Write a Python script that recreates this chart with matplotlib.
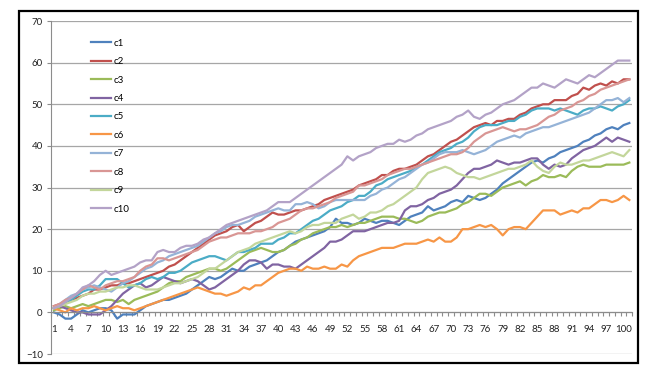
import matplotlib.pyplot as plt
import numpy as np
from matplotlib.patches import Rectangle

# series values (categories 1..101)
c1 = [0, -0.5, -1.5, -1.5, -0.5, 0.5, 0, 0.5, 1, 1,
      0.5, -1.5, -0.5, -0.5, -0.5, 0.5, 1.5, 2, 2.5, 3,
      3, 3.5, 4, 4.5, 5.5, 6.5, 7.5, 8.5, 8, 8.5,
      9.5, 10.5, 10, 10, 11, 11.5, 12, 12.5, 13.5, 14.5,
      15, 16, 17, 17.5, 18, 18.5, 19, 19.5, 20.5, 22.5,
      21.5, 21.5, 21, 21.5, 22.5, 22, 21.5, 22, 22, 21.5,
      21, 22, 23, 23.5, 24, 25.5, 24.5, 25, 25.5, 26.5,
      27, 26.5, 28, 27.5, 27, 27.5, 28.5, 29.5, 31, 32,
      33, 34, 35, 36, 36.5, 36, 37, 37.5, 38.5, 39,
      39.5, 40, 41, 41.5, 42.5, 43, 44, 44.5, 44, 45,
      45.5]
c2 = [1.5, 2, 2.5, 3, 3.5, 4, 4.5, 5.5, 5.5, 6,
      6.5, 6.5, 7, 7, 7.5, 8, 8.5, 9, 9.5, 10,
      11, 11.5, 12.5, 13.5, 14.5, 15.5, 16.5, 17.5, 18.5, 19,
      19.5, 20.5, 21, 19.5, 20.5, 21.5, 22, 23, 24, 23.5,
      23.5, 24, 24.5, 24.5, 25, 25.5, 26, 27, 27.5, 28,
      28.5, 29, 29.5, 30.5, 31, 31.5, 32, 33, 33, 34,
      34.5, 34.5, 35, 35.5, 36.5, 37.5, 38, 39, 40, 41,
      41.5, 42.5, 43.5, 44.5, 45, 45.5, 45, 46, 46, 46.5,
      46.5, 47.5, 48, 49, 49.5, 50, 50, 51, 51, 51,
      52, 52.5, 54, 53.5, 54.5, 55, 54.5, 55.5, 55, 56,
      56]
c3 = [0.5, 1, 1.5, 1, 1.5, 2, 1.5, 2, 2.5, 3,
      3, 2.5, 3, 2, 3, 3.5, 4, 4.5, 5, 6,
      7, 7.5, 7.5, 8.5, 9, 9.5, 10, 10.5, 10.5, 10,
      10.5, 11.5, 12.5, 13.5, 14.5, 15, 15.5, 15, 14.5, 14.5,
      15, 16, 16.5, 17.5, 18, 19, 19.5, 20, 20.5, 20.5,
      21, 20.5, 21, 21.5, 21.5, 22, 22.5, 23, 23, 23,
      22.5, 22.5, 22, 21.5, 22, 23, 23.5, 24, 24, 24.5,
      25, 26, 26.5, 27.5, 28.5, 28.5, 28, 29, 30, 30.5,
      31, 31.5, 30.5, 31.5, 32, 33, 32.5, 32.5, 33, 32.5,
      34, 35, 35.5, 35, 35, 35, 35.5, 35.5, 35.5, 35.5,
      36]
c4 = [1, 1.5, 1, 0.5, 0, 0, -0.5, -0.5, -0.5, 0.5,
      1.5, 3, 4.5, 5.5, 6.5, 7, 6, 6.5, 7.5, 8.5,
      8, 7.5, 7, 7.5, 8, 7.5, 6.5, 5.5, 6, 7,
      8, 9, 10, 11.5, 12.5, 12.5, 12, 10.5, 11.5, 11.5,
      11, 11, 10.5, 11.5, 12.5, 13.5, 14.5, 15.5, 17, 17,
      17.5, 18.5, 19.5, 19.5, 19.5, 20, 20.5, 21, 21.5, 21.5,
      22, 24.5, 25.5, 25.5, 26, 27, 27.5, 28.5, 29, 29.5,
      30.5, 32, 33.5, 34.5, 34.5, 35, 35.5, 36.5, 36, 35.5,
      36, 36, 36.5, 37, 37, 35.5, 34.5, 35.5, 35, 35.5,
      37, 38, 39, 39.5, 40, 41, 42, 41, 42, 41.5,
      41]
c5 = [1, 1.5, 2.5, 3, 4, 5, 5.5, 5.5, 6.5, 8,
      8, 8, 7, 6, 6.5, 7, 8, 8.5, 8, 8.5,
      9.5, 9.5, 10, 11, 12, 12.5, 13, 13.5, 13.5, 13,
      12.5, 13.5, 14.5, 14.5, 15, 15.5, 16.5, 16.5, 16.5, 17.5,
      18, 19, 19, 20, 21, 22, 22.5, 23.5, 24.5, 25,
      25.5, 26.5, 27, 28, 28, 29, 30.5, 31, 32, 32.5,
      33, 33.5, 34, 35, 35.5, 36.5, 37.5, 38.5, 39, 39.5,
      40.5, 41, 42, 43.5, 44.5, 45, 45, 45, 45.5, 46,
      46, 47, 47.5, 48.5, 49, 49, 49, 48.5, 49, 48.5,
      48, 47.5, 48.5, 49, 49, 49.5, 49, 48.5, 49.5, 50,
      51]
c6 = [1, 0.5, 0, 1, 0.5, 1, 1, 1.5, 1, 0.5,
      1, 1.5, 1, 1, 0.5, 1, 1.5, 2, 2.5, 3,
      3.5, 4, 4.5, 5, 5.5, 6, 5.5, 5, 4.5, 4.5,
      4, 4.5, 5, 6, 5.5, 6.5, 6.5, 7.5, 8.5, 9.5,
      10, 10.5, 10.5, 10, 11, 10.5, 10.5, 11, 10.5, 10.5,
      11.5, 11, 12.5, 13.5, 14, 14.5, 15, 15.5, 15.5, 15.5,
      16, 16.5, 16.5, 16.5, 17, 17.5, 17, 18, 17, 17,
      18, 20, 20, 20.5, 21, 20.5, 21, 20, 18.5, 20,
      20.5, 20.5, 20, 21.5, 23, 24.5, 24.5, 24.5, 23.5, 24,
      24.5, 24, 25, 25, 26, 27, 27, 26.5, 27, 28,
      27]
c7 = [1, 2, 3, 4, 4.5, 5.5, 6, 6.5, 6, 5.5,
      5, 6, 7, 7.5, 8.5, 9.5, 10.5, 11, 12, 12.5,
      13.5, 14, 14.5, 15, 15.5, 16, 17, 18, 19, 19.5,
      20.5, 21, 21, 21.5, 22, 23, 23.5, 24, 24.5, 25,
      24.5, 24.5, 26, 26, 26.5, 26, 25, 25.5, 26.5, 27,
      27, 27, 27, 27, 27, 28, 28.5, 29.5, 30, 31,
      32, 32.5, 33.5, 34.5, 35.5, 36, 37, 38, 38.5, 38.5,
      38.5, 39, 38.5, 38, 38.5, 39, 40, 41, 41.5, 42,
      42.5, 42, 43, 43.5, 44, 44.5, 44.5, 45, 45.5, 46,
      46.5, 47, 47.5, 48, 49, 50, 51, 51, 51.5, 50.5,
      51.5]
c8 = [1.5, 2, 3, 3.5, 4.5, 5.5, 6.5, 6, 5.5, 6.5,
      7, 7.5, 7.5, 8, 8.5, 10, 11, 11.5, 13, 13,
      12.5, 13, 13.5, 14, 14.5, 15, 16, 17, 17.5, 18,
      18, 18.5, 19, 19, 19, 19.5, 19.5, 20, 20.5, 21.5,
      22, 22.5, 23.5, 24.5, 25, 25, 25.5, 26, 26.5, 27.5,
      28, 28.5, 29, 30.5, 30.5, 31, 31.5, 32, 33, 33.5,
      34, 34.5, 34.5, 35, 35.5, 36, 36.5, 37, 37.5, 38,
      38, 38.5, 39.5, 41, 42, 43, 43.5, 44, 44.5, 44,
      43.5, 44, 44, 44.5, 45, 46, 47, 47.5, 48.5, 49,
      49.5, 50.5, 51, 52, 52.5, 53.5, 54, 54.5, 55, 55.5,
      56]
c9 = [1, 1.5, 2, 2.5, 3, 4, 4.5, 4.5, 5, 5,
      5.5, 6, 6, 6.5, 6.5, 6, 5.5, 5.5, 5.5, 6,
      6.5, 7, 7, 7.5, 8, 8.5, 9.5, 10.5, 10.5, 11.5,
      12.5, 13.5, 14.5, 15, 15.5, 16.5, 17, 17.5, 18, 18.5,
      19, 19.5, 19, 19.5, 20.5, 21, 21, 21.5, 21.5, 21.5,
      22.5, 23, 23.5, 22.5, 23, 24, 24, 24.5, 25.5, 26,
      27, 28, 29, 30, 32, 33.5, 34, 34.5, 35, 34.5,
      33.5, 33, 32.5, 32.5, 32, 32.5, 33, 33.5, 34, 34.5,
      34.5, 35, 35.5, 36.5, 35, 34, 33.5, 35, 36, 35.5,
      35.5, 36, 36.5, 36.5, 37, 37.5, 38, 38.5, 38, 37.5,
      39]
c10 = [1, 1.5, 2.5, 3.5, 4.5, 6, 6.5, 7.5, 9, 10,
       9, 9.5, 10, 10.5, 11, 12, 12.5, 12.5, 14.5, 15,
       14.5, 14.5, 15.5, 16, 16, 16.5, 17.5, 18, 19, 20,
       21, 21.5, 22, 22.5, 23, 23.5, 24, 24.5, 25.5, 26.5,
       26.5, 26.5, 27.5, 28.5, 29.5, 30.5, 31.5, 32.5, 33.5, 34.5,
       35.5, 37.5, 36.5, 37.5, 38, 38.5, 39.5, 40, 40.5, 40.5,
       41.5, 41, 41.5, 42.5, 43, 44, 44.5, 45, 45.5, 46,
       47, 47.5, 48.5, 47, 46.5, 47.5, 48, 49, 50, 50.5,
       51, 52, 53, 54, 54, 55, 54.5, 54, 55, 56,
       55.5, 55, 56, 57, 56.5, 57.5, 58.5, 59.5, 60.5, 60.5,
       60.5]

names = ['c1', 'c2', 'c3', 'c4', 'c5', 'c6', 'c7', 'c8', 'c9', 'c10']
series = [c1, c2, c3, c4, c5, c6, c7, c8, c9, c10]
colors = ['#4F81BD', '#C0504D', '#9BBB59', '#8064A2', '#4BACC6',
          '#F79646', '#95B3D7', '#D99694', '#C3D69B', '#B3A2C7']

plt.rcParams['font.family'] = ['Lato', 'DejaVu Sans']

fig = plt.figure(figsize=(6.62, 3.76), dpi=100)
ax = fig.add_axes([0.077, 0.0585, 0.878, 0.8855])

for name, vals, col in zip(names, series, colors):
    x = np.arange(1, len(vals) + 1)
    ax.plot(x, vals, color=col, lw=1.6, label=name, solid_joinstyle='round')

# axes formatting (Excel look)
grey = '#8c8c8c'
ax.set_xlim(0.5, 101.5)
ax.set_ylim(-10, 70)
ax.set_yticks(range(-10, 71, 10))
ax.set_xticks(range(1, 102, 3))
ax.set_xticks(np.arange(0.5, 102, 1), minor=True)
ax.tick_params(axis='x', which='major', length=0, pad=9, labelsize=7, labelcolor='#222222')
ax.tick_params(axis='x', which='minor', length=3, color=grey, width=0.8)
ax.tick_params(axis='y', length=3, color=grey, width=0.8, pad=3, labelsize=7, labelcolor='#222222')

ax.spines['top'].set_visible(False)
ax.spines['right'].set_visible(False)
ax.spines['left'].set_color(grey)
ax.spines['bottom'].set_color(grey)
ax.spines['bottom'].set_position(('data', 0))
ax.yaxis.grid(True, color='#a6a6a6', lw=0.9)
ax.set_axisbelow(True)

ax.legend(loc='upper left', bbox_to_anchor=(0.137, 0.897), bbox_transform=fig.transFigure,
          frameon=False, fontsize=7, handlelength=2.1, handletextpad=0.25,
          labelspacing=0.97, borderpad=0, borderaxespad=0)

# outer chart border
fig.patches.append(Rectangle((0.0287, 0.0346), 0.935, 0.936, transform=fig.transFigure,
                             fill=False, ec='black', lw=1.6))

fig.savefig('out.png', dpi=100)
